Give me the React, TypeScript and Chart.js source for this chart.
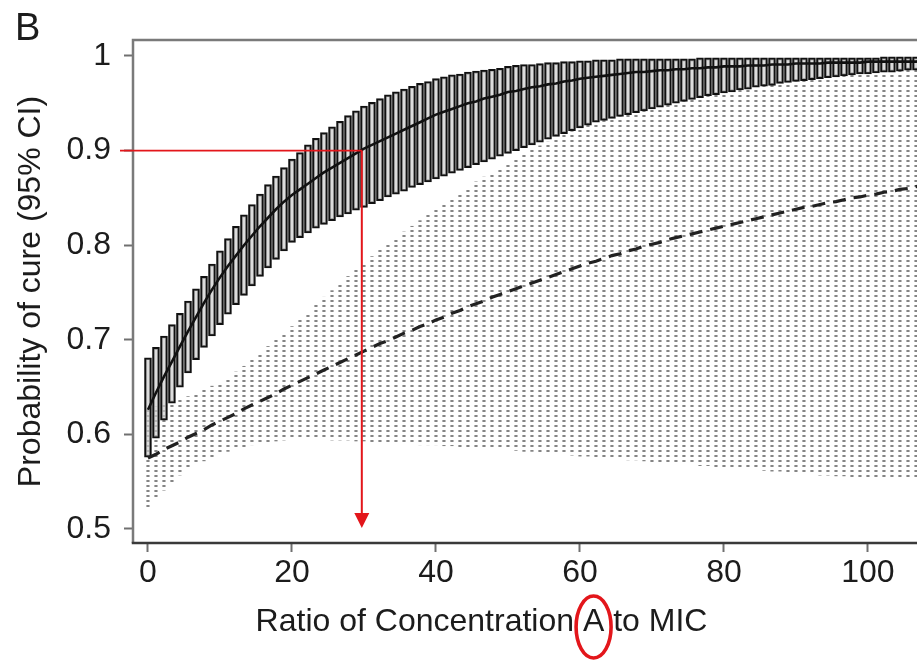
import { useEffect, useRef } from 'react';
import { Chart, registerables } from 'chart.js';

Chart.register(...registerables);

// ---- data ----
const ratio = [
  0, 1.11, 2.22, 3.33, 4.44, 5.56, 6.67, 7.78, 8.89,
  10, 11.11, 12.22, 13.33, 14.44, 15.56, 16.67, 17.78, 18.89,
  20, 21.11, 22.22, 23.33, 24.44, 25.56, 26.67, 27.78, 28.89,
  30, 31.11, 32.22, 33.33, 34.44, 35.56, 36.67, 37.78, 38.89,
  40, 41.11, 42.22, 43.33, 44.44, 45.56, 46.67, 47.78, 48.89,
  50, 51.11, 52.22, 53.33, 54.44, 55.56, 56.67, 57.78, 58.89,
  60, 61.11, 62.22, 63.33, 64.44, 65.56, 66.67, 67.78, 68.89,
  70, 71.11, 72.22, 73.33, 74.44, 75.56, 76.67, 77.78, 78.89,
  80, 81.11, 82.22, 83.33, 84.44, 85.56, 86.67, 87.78, 88.89,
  90, 91.11, 92.22, 93.33, 94.44, 95.56, 96.67, 97.78, 98.89,
  100, 101.11, 102.22, 103.33, 104.44, 105.56, 106.67, 107.78, 108.89,
  110,
];

const cureMedianA = [
  0.626, 0.644, 0.661, 0.677, 0.693, 0.709, 0.724, 0.739, 0.753,
  0.766, 0.778, 0.789, 0.800, 0.810, 0.820, 0.829, 0.838, 0.846,
  0.853, 0.859, 0.865, 0.871, 0.877, 0.882, 0.887, 0.892, 0.897,
  0.902, 0.906, 0.910, 0.914, 0.918, 0.922, 0.926, 0.930, 0.934,
  0.938, 0.941, 0.944, 0.947, 0.950, 0.952, 0.955, 0.957, 0.959,
  0.962, 0.963, 0.965, 0.967, 0.968, 0.970, 0.971, 0.973, 0.974,
  0.976, 0.977, 0.978, 0.979, 0.980, 0.981, 0.982, 0.983, 0.983,
  0.984, 0.985, 0.985, 0.986, 0.986, 0.987, 0.987, 0.988, 0.988,
  0.989, 0.989, 0.989, 0.990, 0.990, 0.990, 0.991, 0.991, 0.991,
  0.992, 0.992, 0.992, 0.992, 0.993, 0.993, 0.993, 0.993, 0.993,
  0.994, 0.994, 0.994, 0.994, 0.994, 0.994, 0.994, 0.995, 0.995,
  0.995,
];

const cureUpperA = [
  0.681, 0.692, 0.704, 0.716, 0.728, 0.741, 0.754, 0.767, 0.780,
  0.794, 0.807, 0.820, 0.832, 0.843, 0.854, 0.864, 0.873, 0.882,
  0.891, 0.898, 0.906, 0.913, 0.919, 0.925, 0.931, 0.937, 0.942,
  0.947, 0.951, 0.955, 0.959, 0.962, 0.965, 0.968, 0.971, 0.973,
  0.976, 0.978, 0.980, 0.981, 0.983, 0.984, 0.985, 0.986, 0.987,
  0.989, 0.990, 0.991, 0.991, 0.992, 0.993, 0.993, 0.994, 0.994,
  0.995, 0.995, 0.996, 0.996, 0.996, 0.997, 0.997, 0.997, 0.997,
  0.997, 0.997, 0.997, 0.997, 0.997, 0.997, 0.998, 0.998, 0.998,
  0.998, 0.998, 0.998, 0.998, 0.998, 0.998, 0.998, 0.998, 0.998,
  0.998, 0.998, 0.998, 0.998, 0.998, 0.998, 0.998, 0.998, 0.998,
  0.998, 0.998, 0.999, 0.999, 0.999, 0.999, 0.999, 0.999, 0.999,
  0.999,
];

const cureLowerA = [
  0.576, 0.596, 0.615, 0.633, 0.650, 0.665, 0.679, 0.692, 0.704,
  0.716, 0.727, 0.737, 0.747, 0.757, 0.767, 0.776, 0.785, 0.794,
  0.803, 0.808, 0.813, 0.818, 0.822, 0.826, 0.830, 0.833, 0.837,
  0.840, 0.844, 0.847, 0.851, 0.854, 0.857, 0.861, 0.864, 0.867,
  0.870, 0.873, 0.876, 0.879, 0.882, 0.885, 0.888, 0.891, 0.894,
  0.897, 0.900, 0.903, 0.906, 0.909, 0.912, 0.915, 0.918, 0.921,
  0.924, 0.927, 0.930, 0.932, 0.934, 0.936, 0.938, 0.940, 0.942,
  0.944, 0.946, 0.948, 0.950, 0.952, 0.954, 0.956, 0.958, 0.959,
  0.961, 0.962, 0.964, 0.965, 0.967, 0.968, 0.969, 0.971, 0.972,
  0.973, 0.974, 0.975, 0.976, 0.977, 0.978, 0.979, 0.980, 0.981,
  0.981, 0.982, 0.983, 0.983, 0.984, 0.985, 0.985, 0.986, 0.986,
  0.987,
];

const cureMedianB = [
  0.575, 0.579, 0.584, 0.588, 0.592, 0.597, 0.601, 0.605, 0.610,
  0.614, 0.618, 0.622, 0.627, 0.631, 0.635, 0.639, 0.643, 0.648,
  0.652, 0.656, 0.660, 0.664, 0.668, 0.672, 0.676, 0.680, 0.684,
  0.688, 0.692, 0.696, 0.699, 0.703, 0.707, 0.710, 0.714, 0.717,
  0.721, 0.724, 0.728, 0.731, 0.735, 0.738, 0.741, 0.745, 0.748,
  0.751, 0.754, 0.757, 0.760, 0.763, 0.766, 0.769, 0.772, 0.775,
  0.778, 0.781, 0.783, 0.786, 0.789, 0.791, 0.794, 0.796, 0.799,
  0.801, 0.803, 0.806, 0.808, 0.810, 0.812, 0.814, 0.816, 0.818,
  0.820, 0.822, 0.824, 0.826, 0.828, 0.830, 0.832, 0.834, 0.836,
  0.838, 0.840, 0.841, 0.843, 0.845, 0.846, 0.848, 0.850, 0.851,
  0.853, 0.854, 0.856, 0.857, 0.859, 0.860, 0.862, 0.863, 0.864,
  0.866,
];

const cureUpperB = [
  0.626, 0.629, 0.631, 0.634, 0.637, 0.640, 0.644, 0.647, 0.651,
  0.655, 0.660, 0.666, 0.672, 0.679, 0.686, 0.693, 0.700, 0.707,
  0.714, 0.721, 0.729, 0.737, 0.745, 0.752, 0.760, 0.767, 0.774,
  0.781, 0.788, 0.795, 0.801, 0.808, 0.814, 0.820, 0.826, 0.832,
  0.838, 0.844, 0.850, 0.856, 0.861, 0.867, 0.872, 0.877, 0.882,
  0.887, 0.892, 0.896, 0.901, 0.905, 0.909, 0.913, 0.917, 0.920,
  0.924, 0.927, 0.930, 0.932, 0.934, 0.936, 0.938, 0.940, 0.942,
  0.944, 0.946, 0.948, 0.950, 0.952, 0.954, 0.956, 0.958, 0.959,
  0.961, 0.962, 0.964, 0.965, 0.967, 0.968, 0.969, 0.971, 0.972,
  0.973, 0.974, 0.975, 0.976, 0.977, 0.978, 0.979, 0.980, 0.981,
  0.981, 0.982, 0.983, 0.983, 0.984, 0.985, 0.985, 0.986, 0.986,
  0.987,
];

const cureLowerB = [
  0.522, 0.534, 0.541, 0.550, 0.557, 0.563, 0.568, 0.572, 0.576,
  0.579, 0.582, 0.585, 0.587, 0.589, 0.591, 0.592, 0.593, 0.594,
  0.595, 0.595, 0.595, 0.595, 0.595, 0.594, 0.594, 0.594, 0.593,
  0.593, 0.592, 0.592, 0.591, 0.591, 0.590, 0.590, 0.589, 0.589,
  0.589, 0.588, 0.588, 0.587, 0.587, 0.586, 0.586, 0.585, 0.585,
  0.584, 0.583, 0.582, 0.582, 0.581, 0.580, 0.580, 0.579, 0.578,
  0.577, 0.577, 0.576, 0.575, 0.575, 0.574, 0.573, 0.573, 0.572,
  0.571, 0.571, 0.570, 0.569, 0.569, 0.568, 0.567, 0.567, 0.566,
  0.565, 0.565, 0.564, 0.563, 0.563, 0.562, 0.561, 0.561, 0.560,
  0.559, 0.559, 0.558, 0.557, 0.557, 0.556, 0.556, 0.555, 0.555,
  0.554, 0.554, 0.554, 0.555, 0.555, 0.555, 0.555, 0.555, 0.555,
  0.555,
];

const xTickValues = [0, 20, 40, 60, 80, 100];
const yTickValues = [0.5, 0.6, 0.7, 0.8, 0.9, 1];

const panelLabel = 'B';
const xTitle = 'Ratio of Concentration A to MIC';
const yTitle = 'Probability of cure (95% CI)';
const circledWord = 'A';

// red annotation: target probability and the ratio where curve A reaches it
const markedCure = 0.9;
const markedRatio = 29.7;
const arrowTipCure = 0.501;

const FONT = "'Liberation Sans', Arial, Helvetica, sans-serif";
const TEXT = '#1c1c1c';
const RED = '#e3161b';

export default function App() {
  const ref = useRef<HTMLCanvasElement>(null);

  useEffect(() => {
    const canvas = ref.current;
    if (!canvas) return;
    const ctx0 = canvas.getContext('2d')!;

    const tile = document.createElement('canvas');
    tile.width = 1;
    tile.height = 5;
    const tctx = tile.getContext('2d')!;
    tctx.fillStyle = '#858585';
    tctx.fillRect(0, 0, 1, 2);
    const dotPattern = ctx0.createPattern(tile, 'repeat');

    const framePlugin = {
      id: 'frame',
      afterDatasetsDraw(chart: any) {
        const { ctx, chartArea: a } = chart;
        ctx.save();
        ctx.lineWidth = 2.5;
        ctx.strokeStyle = '#7a7a7a';
        ctx.beginPath();
        ctx.moveTo(a.left, a.bottom);
        ctx.lineTo(a.left, a.top);
        ctx.lineTo(a.right, a.top);
        ctx.lineTo(a.right, a.bottom);
        ctx.stroke();
        ctx.strokeStyle = '#3a3a3a';
        ctx.beginPath();
        ctx.moveTo(a.left - 1.25, a.bottom);
        ctx.lineTo(a.right, a.bottom);
        ctx.stroke();
        ctx.restore();
      },
    };

    const annotationPlugin = {
      id: 'annotation',
      afterDraw(chart: any) {
        const { ctx, chartArea: a, scales } = chart;
        const px = scales.x.getPixelForValue(markedRatio);
        const py = scales.y.getPixelForValue(markedCure);
        const tip = scales.y.getPixelForValue(arrowTipCure);
        ctx.save();
        ctx.strokeStyle = RED;
        ctx.fillStyle = RED;
        ctx.lineWidth = 1.6;
        ctx.beginPath();
        ctx.moveTo(a.left - 13, py);
        ctx.lineTo(px, py);
        ctx.stroke();
        ctx.lineWidth = 2;
        ctx.beginPath();
        ctx.moveTo(px, py);
        ctx.lineTo(px, tip - 13);
        ctx.stroke();
        ctx.beginPath();
        ctx.moveTo(px - 7.5, tip - 15);
        ctx.lineTo(px + 7.5, tip - 15);
        ctx.lineTo(px, tip);
        ctx.closePath();
        ctx.fill();

        // panel letter
        ctx.fillStyle = TEXT;
        ctx.font = `38px ${FONT}`;
        ctx.textAlign = 'left';
        ctx.textBaseline = 'alphabetic';
        ctx.fillText(panelLabel, 15, 40);

        // ellipse around the circled word of the x title
        const tb = chart.titleBlock;
        if (tb) {
          ctx.font = `32px ${FONT}`;
          const full = ctx.measureText(xTitle).width;
          const idx = xTitle.indexOf(' ' + circledWord + ' ') + 1;
          const pre = ctx.measureText(xTitle.slice(0, idx)).width;
          const w = ctx.measureText(circledWord).width;
          const center = (tb.left + tb.right) / 2;
          const cx = center - full / 2 + pre + w / 2;
          const cy = tb.top + 19.2 + 5;
          ctx.strokeStyle = RED;
          ctx.lineWidth = 3.6;
          ctx.beginPath();
          ctx.ellipse(cx, cy, 17.5, 31, 0, 0, Math.PI * 2);
          ctx.stroke();
        }
        ctx.restore();
      },
    };

    const chart = new Chart(canvas, {
      type: 'bar',
      data: {
        datasets: [
          {
            type: 'bar',
            label: '95% CI (B)',
            data: ratio.map((r, i) => ({ x: r, y: [cureLowerB[i], cureUpperB[i]] })) as any,
            backgroundColor: dotPattern as any,
            borderWidth: 0,
            barThickness: 2.5,
            grouped: false,
            order: 4,
          },
          {
            type: 'bar',
            label: '95% CI (A)',
            data: ratio.map((r, i) => ({ x: r, y: [cureLowerA[i], cureUpperA[i]] })) as any,
            backgroundColor: 'rgba(205,205,205,0.7)',
            borderColor: '#111111',
            borderWidth: 2,
            borderSkipped: false,
            barThickness: 7,
            grouped: false,
            order: 3,
          },
          {
            type: 'line',
            label: 'Median (B)',
            data: ratio.map((r, i) => ({ x: r, y: cureMedianB[i] })) as any,
            borderColor: '#222222',
            borderWidth: 3.2,
            borderDash: [13, 8],
            pointRadius: 0,
            tension: 0,
            order: 2,
          },
          {
            type: 'line',
            label: 'Median (A)',
            data: ratio.map((r, i) => ({ x: r, y: cureMedianA[i] })) as any,
            borderColor: '#111111',
            borderWidth: 2.6,
            pointRadius: 0,
            tension: 0,
            order: 1,
          },
        ] as any,
      },
      options: {
        responsive: false,
        animation: false,
        events: [],
        layout: { padding: { top: 40, left: 0, right: 0, bottom: 0 } },
        plugins: {
          legend: { display: false },
          tooltip: { enabled: false },
          title: {
            display: true,
            position: 'bottom',
            text: xTitle,
            color: TEXT,
            font: { size: 32, family: FONT, weight: 'normal' as any },
            padding: { top: 0, bottom: 21.8 },
          },
        },
        scales: {
          x: {
            type: 'linear',
            min: -2.08,
            max: 113.2,
            offset: false,
            afterBuildTicks: (s: any) => {
              s.ticks = xTickValues.map((v) => ({ value: v }));
            },
            afterFit: (s: any) => {
              s.height = 59.8;
            },
            ticks: {
              color: TEXT,
              font: { size: 32, family: FONT },
              padding: 2,
              maxRotation: 0,
              autoSkip: false,
              callback: (v: any) => String(v),
            },
            grid: {
              display: true,
              offset: false,
              drawOnChartArea: false,
              drawTicks: true,
              tickLength: 9,
              tickWidth: 2,
              tickColor: '#707070',
            },
            border: { display: false },
          },
          y: {
            type: 'linear',
            min: 0.4852,
            max: 1.0169,
            afterBuildTicks: (s: any) => {
              s.ticks = yTickValues.map((v) => ({ value: v }));
            },
            afterFit: (s: any) => {
              s.width = 133;
            },
            ticks: {
              color: TEXT,
              font: { size: 32, family: FONT },
              padding: 13,
              autoSkip: false,
              callback: (v: any) => (Number(v) === 1 ? '1' : Number(v).toFixed(1)),
            },
            grid: {
              display: true,
              drawOnChartArea: false,
              drawTicks: true,
              tickLength: 9,
              tickWidth: 2,
              tickColor: '#707070',
            },
            border: { display: false },
            title: {
              display: true,
              text: yTitle,
              color: TEXT,
              font: { size: 32, family: FONT },
              padding: { top: 12, bottom: 0 },
            },
          },
        },
      } as any,
      plugins: [framePlugin, annotationPlugin],
    });

    return () => chart.destroy();
  }, []);

  return (
    <div
      style={{
        position: 'fixed',
        left: 0,
        top: 0,
        width: 917,
        height: 663,
        overflow: 'hidden',
        background: '#ffffff',
      }}
    >
      <canvas ref={ref} width={963} height={663} style={{ display: 'block', width: 963, height: 663 }} />
    </div>
  );
}
